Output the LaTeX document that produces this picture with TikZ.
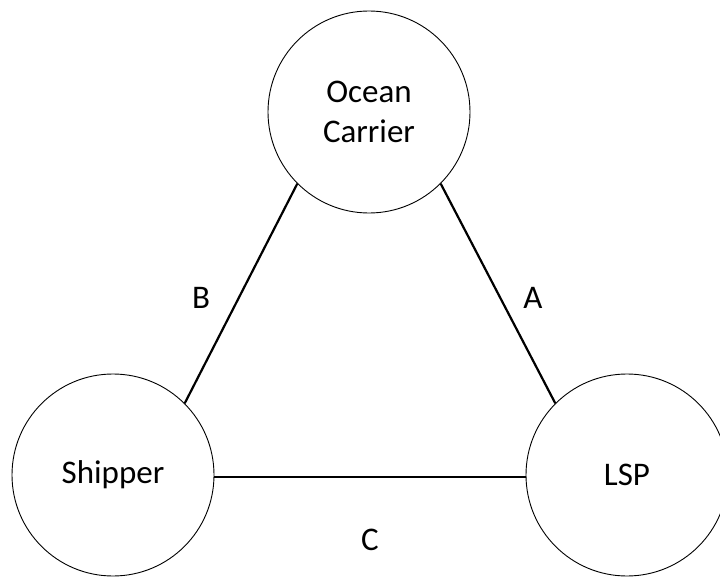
\documentclass[tikz,border=0pt]{standalone}
\usepackage{fontspec}
\setmainfont{Carlito}
\begin{document}
\begin{tikzpicture}[x=1pt,y=-1pt,
  party/.style={circle,draw=black,line width=0.9pt,minimum size=202pt,inner sep=0pt,align=center,font=\fontsize{33}{40}\selectfont},
  link/.style={draw=black,line width=2.2pt},
  lbl/.style={font=\fontsize{33}{40}\selectfont,inner sep=0pt}]
\useasboundingbox (0,0) rectangle (720,578);
\node[party] (oc) at (369,112) {Ocean\\Carrier};
\node[party] (sh) at (113,475) {Shipper};
\node[party] (lsp) at (627,475) {LSP};
\draw[link] (sh.45) -- (oc.225);
\draw[link] (oc.-45) -- (lsp.135);
\draw[link] ([yshift=-2pt]sh.east) -- ([yshift=-2pt]lsp.west);
\node[lbl] (lb) at (201,298) {B};
\node[lbl] (la) at (533,298) {A};
\node[lbl] (lc) at (370,540) {C};
\end{tikzpicture}
\end{document}
